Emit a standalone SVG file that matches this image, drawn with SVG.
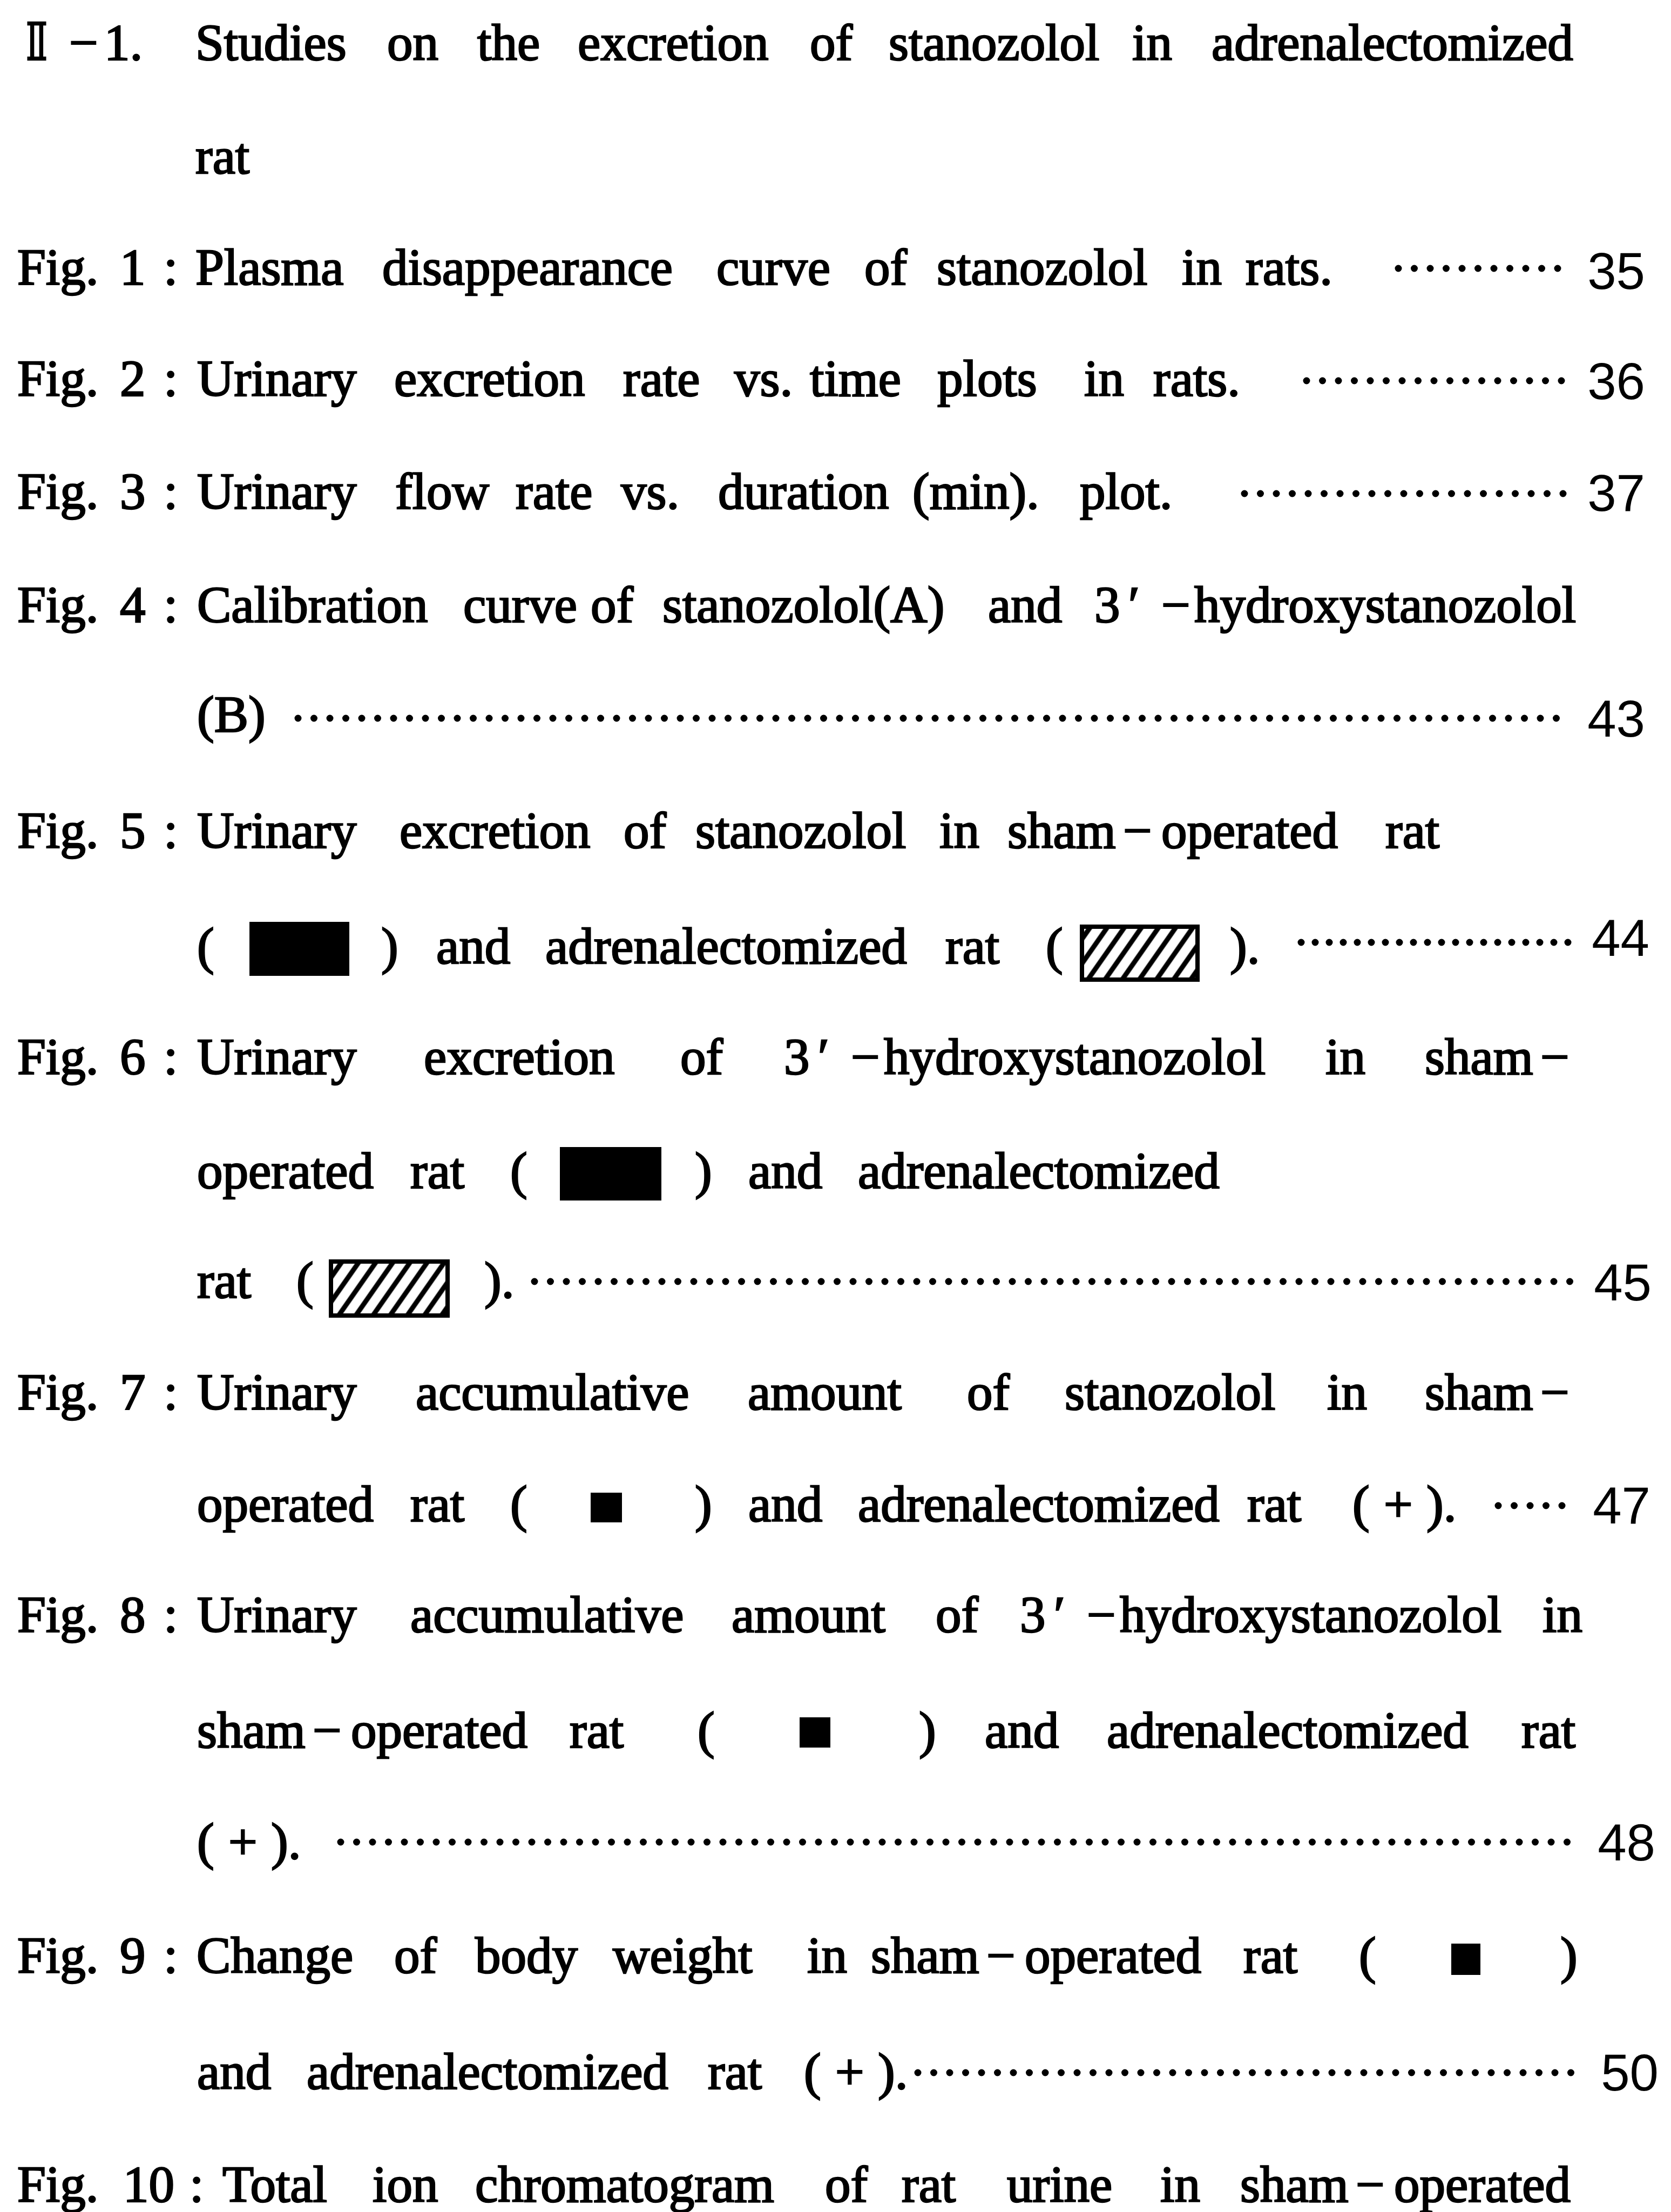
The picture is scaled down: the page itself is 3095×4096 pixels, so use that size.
<svg xmlns="http://www.w3.org/2000/svg" width="3095" height="4096" viewBox="0 0 3095 4096">
<style>
.t{font-family:"Liberation Serif","Times New Roman",serif;font-size:95px;fill:#000;stroke:#000;stroke-width:2.6}
.rn{font-family:"DejaVu Serif","Liberation Serif",serif}
.n{font-family:"Liberation Sans",Arial,sans-serif;font-size:96px;fill:#000;text-anchor:end}
.lead{fill:none;stroke:#000;stroke-width:13;stroke-linecap:round;stroke-dasharray:0 29.5}
.solid{fill:#000}
.hbox{fill:url(#hatch);stroke:#000;stroke-width:8}
</style>
<defs>
<pattern id="hatch" patternUnits="userSpaceOnUse" width="26" height="26" patternTransform="rotate(35)">
<rect width="26" height="26" fill="#fff"/>
<line x1="13" y1="-5" x2="13" y2="31" stroke="#000" stroke-width="9"/>
</pattern>
</defs>
<rect width="3095" height="4096" fill="#fff"/>

<g id="section-title">
<text class="t" y="111"><tspan class="rn" x="48" textLength="40" lengthAdjust="spacingAndGlyphs">Ⅱ</tspan><tspan x="128">−</tspan><tspan x="193">1.</tspan><tspan x="362">Studies</tspan><tspan x="717">on</tspan><tspan x="884">the</tspan><tspan x="1070">excretion</tspan><tspan x="1500">of</tspan><tspan x="1646">stanozolol</tspan><tspan x="2097">in</tspan><tspan x="2244">adrenalectomized</tspan></text>
<text class="t" y="321"><tspan x="362">rat</tspan></text>
</g>

<g id="fig1">
<text class="t" y="527"><tspan x="32">Fig.</tspan><tspan x="222">1</tspan><tspan x="303">:</tspan><tspan x="362">Plasma</tspan><tspan x="708">disappearance</tspan><tspan x="1327">curve</tspan><tspan x="1601">of</tspan><tspan x="1735">stanozolol</tspan><tspan x="2189">in</tspan><tspan x="2307">rats.</tspan></text>
<text class="n" x="3047" y="535">35</text>
</g>

<g id="fig2">
<text class="t" y="733"><tspan x="32">Fig.</tspan><tspan x="222">2</tspan><tspan x="303">:</tspan><tspan x="365">Urinary</tspan><tspan x="730">excretion</tspan><tspan x="1154">rate</tspan><tspan x="1360">vs.</tspan><tspan x="1500">time</tspan><tspan x="1736">plots</tspan><tspan x="2008">in</tspan><tspan x="2136">rats.</tspan></text>
<text class="n" x="3047" y="739">36</text>
</g>

<g id="fig3">
<text class="t" y="942"><tspan x="32">Fig.</tspan><tspan x="222">3</tspan><tspan x="303">:</tspan><tspan x="365">Urinary</tspan><tspan x="732">flow</tspan><tspan x="955">rate</tspan><tspan x="1150">vs.</tspan><tspan x="1330">duration</tspan><tspan x="1690">(min).</tspan><tspan x="2000">plot.</tspan></text>
<text class="n" x="3047" y="946">37</text>
</g>

<g id="fig4">
<text class="t" y="1152"><tspan x="32">Fig.</tspan><tspan x="222">4</tspan><tspan x="303">:</tspan><tspan x="365">Calibration</tspan><tspan x="858">curve</tspan><tspan x="1094">of</tspan><tspan x="1227">stanozolol(A)</tspan><tspan x="1830">and</tspan><tspan x="2027">3</tspan><tspan x="2090">′</tspan><tspan x="2151">−</tspan><tspan x="2212">hydroxystanozolol</tspan></text>
<text class="t" y="1355"><tspan x="365">(B)</tspan></text>
<text class="n" x="3047" y="1364">43</text>
</g>

<g id="fig5">
<text class="t" y="1570"><tspan x="32">Fig.</tspan><tspan x="222">5</tspan><tspan x="303">:</tspan><tspan x="365">Urinary</tspan><tspan x="740">excretion</tspan><tspan x="1155">of</tspan><tspan x="1288">stanozolol</tspan><tspan x="1740">in</tspan><tspan x="1866">sham</tspan><tspan x="2080">−</tspan><tspan x="2151">operated</tspan><tspan x="2566">rat</tspan></text>
<text class="t" y="1784"><tspan x="365">(</tspan><tspan x="706">)</tspan><tspan x="808">and</tspan><tspan x="1010">adrenalectomized</tspan><tspan x="1751">rat</tspan><tspan x="1937">(</tspan><tspan x="2278">).</tspan></text>
<rect class="solid" x="462" y="1707" width="185" height="100"/>
<rect class="hbox" x="2004" y="1716" width="214" height="98"/>
<text class="n" x="3055" y="1770">44</text>
</g>

<g id="fig6">
<text class="t" y="1989"><tspan x="32">Fig.</tspan><tspan x="222">6</tspan><tspan x="303">:</tspan><tspan x="365">Urinary</tspan><tspan x="785">excretion</tspan><tspan x="1260">of</tspan><tspan x="1452">3</tspan><tspan x="1515">′</tspan><tspan x="1576">−</tspan><tspan x="1637">hydroxystanozolol</tspan><tspan x="2455">in</tspan><tspan x="2639">sham</tspan><tspan x="2853">−</tspan></text>
<text class="t" y="2200"><tspan x="365">operated</tspan><tspan x="760">rat</tspan><tspan x="945">(</tspan><tspan x="1287">)</tspan><tspan x="1386">and</tspan><tspan x="1589">adrenalectomized</tspan></text>
<rect class="solid" x="1037" y="2124" width="188" height="99"/>
<text class="t" y="2403"><tspan x="365">rat</tspan><tspan x="549">(</tspan><tspan x="897">).</tspan></text>
<rect class="hbox" x="613" y="2336" width="216" height="100"/>
<text class="n" x="3059" y="2408">45</text>
</g>

<g id="fig7">
<text class="t" y="2610"><tspan x="32">Fig.</tspan><tspan x="222">7</tspan><tspan x="303">:</tspan><tspan x="365">Urinary</tspan><tspan x="770">accumulative</tspan><tspan x="1385">amount</tspan><tspan x="1791">of</tspan><tspan x="1972">stanozolol</tspan><tspan x="2458">in</tspan><tspan x="2639">sham</tspan><tspan x="2853">−</tspan></text>
<text class="t" y="2817"><tspan x="365">operated</tspan><tspan x="760">rat</tspan><tspan x="945">(</tspan><tspan x="1287">)</tspan><tspan x="1386">and</tspan><tspan x="1589">adrenalectomized</tspan><tspan x="2310">rat</tspan><tspan x="2505">(</tspan><tspan x="2563">+</tspan><tspan x="2642">).</tspan></text>
<rect class="solid" x="1094" y="2764" width="58" height="55"/>
<text class="n" x="3057" y="2821">47</text>
</g>

<g id="fig8">
<text class="t" y="3022"><tspan x="32">Fig.</tspan><tspan x="222">8</tspan><tspan x="303">:</tspan><tspan x="365">Urinary</tspan><tspan x="760">accumulative</tspan><tspan x="1355">amount</tspan><tspan x="1733">of</tspan><tspan x="1889">3</tspan><tspan x="1952">′</tspan><tspan x="2013">−</tspan><tspan x="2074">hydroxystanozolol</tspan><tspan x="2857">in</tspan></text>
<text class="t" y="3236"><tspan x="365">sham</tspan><tspan x="579">−</tspan><tspan x="650">operated</tspan><tspan x="1055">rat</tspan><tspan x="1292">(</tspan><tspan x="1702">)</tspan><tspan x="1824">and</tspan><tspan x="2050">adrenalectomized</tspan><tspan x="2818">rat</tspan></text>
<rect class="solid" x="1481" y="3180" width="57" height="56"/>
<text class="t" y="3442"><tspan x="365">(</tspan><tspan x="423">+</tspan><tspan x="502">).</tspan></text>
<text class="n" x="3066" y="3445">48</text>
</g>

<g id="fig9">
<text class="t" y="3653"><tspan x="32">Fig.</tspan><tspan x="222">9</tspan><tspan x="303">:</tspan><tspan x="364">Change</tspan><tspan x="730">of</tspan><tspan x="880">body</tspan><tspan x="1135">weight</tspan><tspan x="1495">in</tspan><tspan x="1613">sham</tspan><tspan x="1827">−</tspan><tspan x="1898">operated</tspan><tspan x="2303">rat</tspan><tspan x="2517">(</tspan><tspan x="2890">)</tspan></text>
<rect class="solid" x="2688" y="3599" width="54" height="58"/>
<text class="t" y="3868"><tspan x="365">and</tspan><tspan x="568">adrenalectomized</tspan><tspan x="1311">rat</tspan><tspan x="1489">(</tspan><tspan x="1547">+</tspan><tspan x="1626">).</tspan></text>
<text class="n" x="3072" y="3871">50</text>
</g>

<g id="fig10">
<text class="t" y="4077"><tspan x="32">Fig.</tspan><tspan x="228">10</tspan><tspan x="351">:</tspan><tspan x="412">Total</tspan><tspan x="690">ion</tspan><tspan x="880">chromatogram</tspan><tspan x="1528">of</tspan><tspan x="1670">rat</tspan><tspan x="1865">urine</tspan><tspan x="2149">in</tspan><tspan x="2297">sham</tspan><tspan x="2511">−</tspan><tspan x="2582">operated</tspan></text>
</g>

<g id="leaders">
<line class="lead" x1="2590" y1="497" x2="2902" y2="497"/>
<line class="lead" x1="2420" y1="705" x2="2902" y2="705"/>
<line class="lead" x1="2305" y1="914" x2="2902" y2="914"/>
<line class="lead" x1="552" y1="1330" x2="2902" y2="1330"/>
<line class="lead" x1="2410" y1="1745" x2="2910" y2="1745" style="stroke-dasharray:0 26"/>
<line class="lead" x1="990" y1="2373" x2="2910" y2="2373"/>
<line class="lead" x1="2775" y1="2788" x2="2910" y2="2788"/>
<line class="lead" x1="631" y1="3411" x2="2915" y2="3411"/>
<line class="lead" x1="1700" y1="3838" x2="2915" y2="3838"/>
</g>
</svg>
